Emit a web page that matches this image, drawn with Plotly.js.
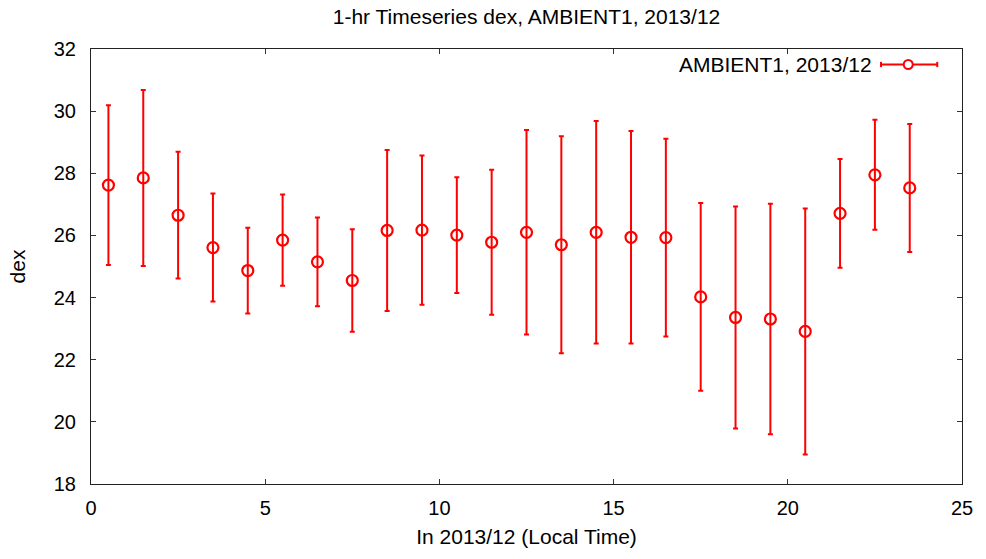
<!DOCTYPE html>
<html>
<head>
<meta charset="utf-8">
<script src="https://cdn.plot.ly/plotly-3.0.1.min.js"></script>
<style>html,body{margin:0;padding:0;background:#fff;}#chart{width:986px;height:559px;}</style>
</head>
<body>
<div id="chart"></div>
<script>
// Hour of day (bin centres)
const hours = [0.5,1.5,2.5,3.5,4.5,5.5,6.5,7.5,8.5,9.5,10.5,11.5,12.5,13.5,14.5,15.5,16.5,17.5,18.5,19.5,20.5,21.5,22.5,23.5];
// Mean dex per hour
const dexMean = [27.62,27.85,26.65,25.61,24.87,25.85,25.15,24.55,26.16,26.17,26.01,25.78,26.10,25.70,26.10,25.94,25.93,24.02,23.36,23.31,22.91,26.71,27.95,27.53];
// Error (half-range of bar)
const dexErr = [2.57,2.83,2.04,1.74,1.38,1.47,1.43,1.65,2.59,2.40,1.86,2.33,3.29,3.49,3.58,3.42,3.18,3.02,3.57,3.71,3.96,1.75,1.77,2.06];
const seriesName = "AMBIENT1, 2013/12";
const xTicks = [0,5,10,15,20,25];
const yTicks = [18,20,22,24,26,28,30,32];

const red = "#ff0000";
const font = "Liberation Sans, Arial, Helvetica, sans-serif";

const trace = {
  x: hours, y: dexMean, type: "scatter", mode: "markers", name: seriesName,
  marker: {symbol: "circle-open", size: 11, color: red, line: {width: 2.2, color: red}},
  error_y: {type: "data", array: dexErr, visible: true, color: red, thickness: 2, width: 2.5},
  showlegend: false
};

// legend sample (paper coords)
const lx0 = 0.907, lx1 = 0.9716, lxc = 0.9383, ly = 0.9644;

const layout = {
  width: 986, height: 559,
  margin: {l: 91, r: 24, t: 49, b: 75},
  paper_bgcolor: "#fff", plot_bgcolor: "#fff",
  font: {family: font, size: 20, color: "#000"},
  title: {text: "1-hr Timeseries dex, AMBIENT1, 2013/12", x: 0.5, xref: "paper", y: 1 - 17/559, yref: "container", yanchor: "middle", font: {size: 21}},
  xaxis: {
    range: [0, 25], tickvals: xTicks, ticks: "inside", ticklen: 5, tickcolor: "#333",
    showline: true, linecolor: "#222", linewidth: 1, mirror: "allticks",
    showgrid: false, zeroline: false, ticklabelstandoff: 6,
    tickfont: {size: 20},
    title: {text: "In 2013/12 (Local Time)", standoff: 11, font: {size: 21}}
  },
  yaxis: {
    range: [18, 32], tickvals: yTicks, ticks: "inside", ticklen: 5, tickcolor: "#333",
    showline: true, linecolor: "#222", linewidth: 1, mirror: "allticks",
    showgrid: false, zeroline: false, ticklabelstandoff: 10,
    tickfont: {size: 20},
    title: {text: "dex", standoff: 22, font: {size: 21}}
  },
  showlegend: false,
  annotations: [{
    text: seriesName, xref: "paper", yref: "paper", x: 0.8995, y: ly,
    xanchor: "right", yanchor: "middle", showarrow: false, font: {size: 21}
  }],
  shapes: [
    {type: "line", xref: "paper", yref: "paper", x0: lx0, x1: lx1, y0: ly, y1: ly, line: {color: red, width: 2}},
    {type: "line", xref: "paper", yref: "paper", x0: lx0, x1: lx0, y0: ly - 0.006, y1: ly + 0.006, line: {color: red, width: 2}},
    {type: "line", xref: "paper", yref: "paper", x0: lx1, x1: lx1, y0: ly - 0.006, y1: ly + 0.006, line: {color: red, width: 2}},
    {type: "circle", xref: "paper", yref: "paper", xsizemode: "pixel", ysizemode: "pixel",
     xanchor: lxc, yanchor: ly, x0: -4.5, x1: 4.5, y0: -4.5, y1: 4.5,
     fillcolor: "#fff", line: {color: red, width: 2}}
  ]
};

Plotly.newPlot("chart", [trace], layout, {displayModeBar: false, staticPlot: true});
</script>
</body>
</html>
